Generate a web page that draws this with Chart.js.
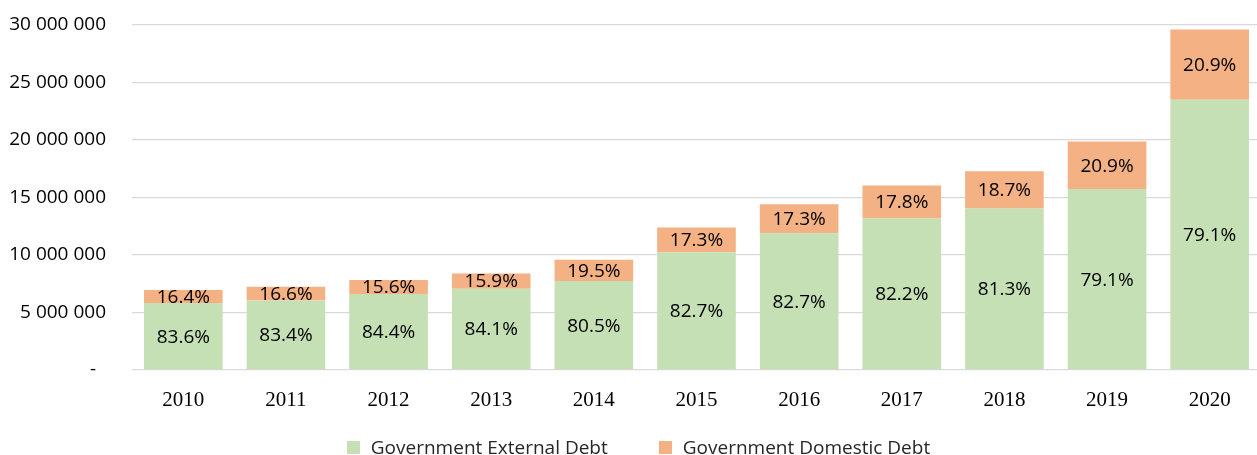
<!DOCTYPE html>
<html>
<head>
<meta charset="utf-8">
<script src="https://cdn.jsdelivr.net/npm/chart.js@4.4.1/dist/chart.umd.min.js"></script>
<style>
  html, body { margin: 0; padding: 0; background: #ffffff; }
  #wrap { position: relative; width: 1257px; height: 455px; overflow: hidden; }
  #chart { position: absolute; left: 0; top: 0; }
  #legend { position: absolute; left: 10px; top: 435px; width: 1257px; display: flex; justify-content: center;
            font-family: "Open Sans", sans-serif; font-size: 19px; color: #262626; line-height: 24px; }
  .item { display: flex; align-items: center; }
  .item + .item { margin-left: 51px; }
  .sw { width: 13px; height: 13px; margin-right: 11px; }
</style>
</head>
<body>
<div id="wrap">
  <canvas id="chart" width="1261" height="455"></canvas>
  <div id="legend"></div>
</div>
<script>
// ---- data ----
const years = ['2010','2011','2012','2013','2014','2015','2016','2017','2018','2019','2020'];
const externalDebt = [5820000, 6040000, 6600000, 7070000, 7730000, 10250000, 11900000, 13180000, 14050000, 15730000, 23490000];
const domesticDebt = [1130000, 1200000, 1220000, 1330000, 1850000, 2150000, 2520000, 2860000, 3240000, 4140000, 6110000];
const externalPct = ['83.6%','83.4%','84.4%','84.1%','80.5%','82.7%','82.7%','82.2%','81.3%','79.1%','79.1%'];
const domesticPct = ['16.4%','16.6%','15.6%','15.9%','19.5%','17.3%','17.3%','17.8%','18.7%','20.9%','20.9%'];
const seriesNames = ['Government External Debt', 'Government Domestic Debt'];
const yTicks = [0, 5000000, 10000000, 15000000, 20000000, 25000000, 30000000];

const GREEN = '#C5E0B4';
const ORANGE = '#F4B183';
const pctLabels = [externalPct, domesticPct];

function fmt(v) {
  if (v === 0) return '-  ';
  return String(v).replace(/\B(?=(\d{3})+(?!\d))/g, ' ');
}

const segLabels = {
  id: 'segLabels',
  afterDatasetsDraw(chart) {
    const ctx = chart.ctx;
    ctx.save();
    ctx.font = '19px "Open Sans"';
    ctx.fillStyle = '#000000';
    ctx.textAlign = 'center';
    ctx.textBaseline = 'middle';
    chart.data.datasets.forEach((ds, i) => {
      const meta = chart.getDatasetMeta(i);
      meta.data.forEach((bar, j) => {
        const y = (bar.y + bar.base) / 2;
        ctx.fillText(pctLabels[i][j], bar.x, y + 1);
      });
    });
    ctx.restore();
  }
};

const chart = new Chart(document.getElementById('chart'), {
  type: 'bar',
  data: {
    labels: years,
    datasets: [
      { label: seriesNames[0], data: externalDebt, backgroundColor: GREEN, borderWidth: 0 },
      { label: seriesNames[1], data: domesticDebt, backgroundColor: ORANGE, borderWidth: 0 }
    ]
  },
  options: {
    responsive: false,
    devicePixelRatio: 1,
    animation: false,
    layout: { padding: { top: 25, right: 0, left: 0, bottom: 0 } },
    datasets: { bar: { categoryPercentage: 1.0, barPercentage: 0.766 } },
    plugins: {
      legend: { display: false },
      tooltip: { enabled: false }
    },
    scales: {
      x: {
        stacked: true,
        grid: { display: false },
        border: { display: false },
        ticks: { font: { family: 'Liberation Serif', size: 21 }, color: '#000000', padding: 10, maxRotation: 0 },
        afterFit(scale) { scale.height = 85; }
      },
      y: {
        stacked: true,
        min: 0,
        max: 30000000,
        afterBuildTicks(scale) { scale.ticks = yTicks.map(v => ({ value: v })); },
        grid: { color: '#D9D9D9', lineWidth: 1.3, drawTicks: true, tickLength: 26, tickColor: 'rgba(0,0,0,0)' },
        border: { display: false },
        ticks: { font: { family: 'Open Sans', size: 19 }, color: '#000000', padding: 0, callback: (v) => fmt(v) },
        afterFit(scale) { scale.width = 132; }
      }
    }
  },
  plugins: [segLabels]
});

// HTML legend built from dataset info
const legend = document.getElementById('legend');
chart.data.datasets.forEach(ds => {
  const item = document.createElement('div');
  item.className = 'item';
  const sw = document.createElement('span');
  sw.className = 'sw';
  sw.style.background = ds.backgroundColor;
  const tx = document.createElement('span');
  tx.textContent = ds.label;
  item.appendChild(sw);
  item.appendChild(tx);
  legend.appendChild(item);
});
</script>
</body>
</html>
